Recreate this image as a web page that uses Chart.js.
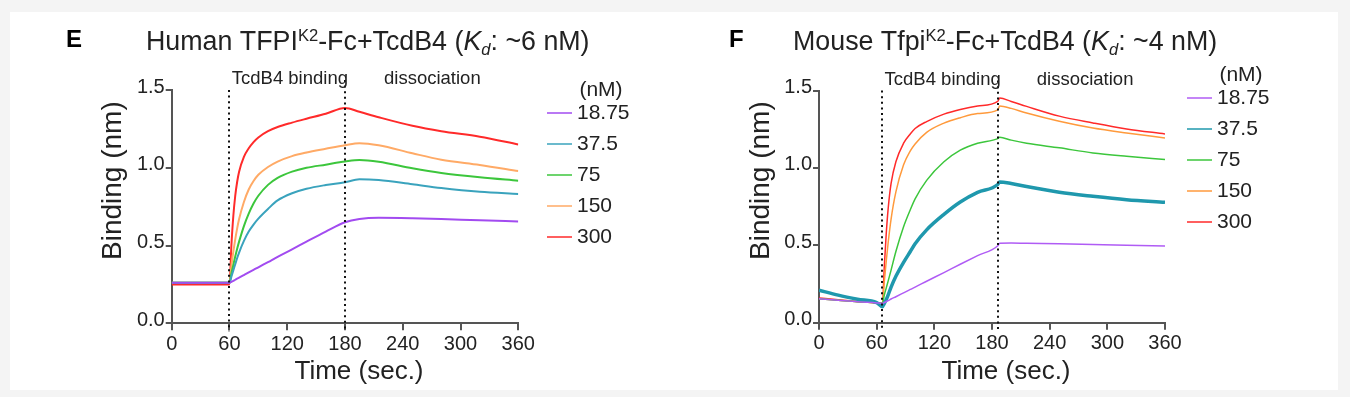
<!DOCTYPE html>
<html>
<head>
<meta charset="utf-8">
<script src="https://cdn.jsdelivr.net/npm/chart.js@4.4.1/dist/chart.umd.min.js"></script>
<style>
  html, body { margin: 0; padding: 0; background: #f4f4f4; }
  #sheet { position: absolute; left: 10px; top: 12px; width: 1328px; height: 378px; background: #fff; }
  .panel { position: absolute; top: 12px; height: 378px; }
  #panelE { left: 10px; width: 665px; }
  #panelF { left: 675px; width: 663px; }
</style>
</head>
<body>
<div id="sheet"></div>
<div class="panel" id="panelE"><canvas id="chartE" width="665" height="378"></canvas></div>
<div class="panel" id="panelF"><canvas id="chartF" width="663" height="378"></canvas></div>
<script>
// concentrations (nM) and axis ticks
var concLabels = ['18.75', '37.5', '75', '150', '300'];
var xTicks = [0, 60, 120, 180, 240, 300, 360];
var yTicks = [0, 0.5, 1.0, 1.5];

// panel E - human TFPI K2, binding (nm) vs time (sec.)
var phaseE = [60, 180];
var timeE = [0, 30, 60, 62, 64, 66, 68, 70, 75, 80, 85, 90, 100, 110, 125, 140, 160, 180, 195, 215, 250, 280, 320, 360];
var humanC1 = [0.26, 0.26, 0.26, 0.267, 0.273, 0.28, 0.287, 0.293, 0.31, 0.327, 0.343, 0.36, 0.393, 0.427, 0.475, 0.525, 0.59, 0.65, 0.671, 0.679, 0.676, 0.671, 0.662, 0.655];
var humanC2 = [0.26, 0.26, 0.26, 0.30, 0.34, 0.38, 0.42, 0.455, 0.53, 0.59, 0.635, 0.673, 0.735, 0.79, 0.836, 0.865, 0.889, 0.907, 0.926, 0.921, 0.894, 0.87, 0.846, 0.832];
var humanC3 = [0.26, 0.26, 0.26, 0.32, 0.375, 0.43, 0.48, 0.525, 0.625, 0.705, 0.77, 0.82, 0.89, 0.935, 0.975, 1.0, 1.02, 1.04, 1.05, 1.039, 0.997, 0.967, 0.939, 0.917];
var humanC4 = [0.26, 0.26, 0.26, 0.37, 0.46, 0.54, 0.61, 0.67, 0.78, 0.86, 0.915, 0.955, 1.005, 1.04, 1.075, 1.098, 1.122, 1.145, 1.158, 1.145, 1.093, 1.052, 1.018, 0.979];
var humanC5 = [0.25, 0.25, 0.25, 0.50, 0.69, 0.82, 0.91, 0.975, 1.07, 1.125, 1.165, 1.195, 1.235, 1.262, 1.29, 1.315, 1.347, 1.385, 1.36, 1.325, 1.27, 1.235, 1.20, 1.15];

// panel F - mouse Tfpi K2
var phaseF = [66, 186];
var timeF = [0, 20, 40, 60, 66, 68, 70, 72, 75, 80, 88, 95, 100, 112, 130, 147, 165, 186, 188, 200, 216, 250, 285, 320, 360];
var mouseC1 = [0.155, 0.145, 0.135, 0.128, 0.125, 0.13, 0.137, 0.143, 0.153, 0.168, 0.193, 0.215, 0.23, 0.268, 0.324, 0.378, 0.434, 0.497, 0.514, 0.515, 0.513, 0.51, 0.505, 0.50, 0.495];
var mouseC2 = [0.21, 0.178, 0.152, 0.13, 0.103, 0.125, 0.15, 0.18, 0.23, 0.30, 0.39, 0.46, 0.51, 0.60, 0.70, 0.78, 0.842, 0.893, 0.91, 0.90, 0.88, 0.843, 0.817, 0.795, 0.778];
var mouseC3 = [0.155, 0.145, 0.135, 0.128, 0.125, 0.18, 0.225, 0.27, 0.34, 0.46, 0.62, 0.73, 0.80, 0.92, 1.04, 1.115, 1.16, 1.19, 1.198, 1.18, 1.16, 1.13, 1.097, 1.075, 1.054];
var mouseC4 = [0.155, 0.145, 0.135, 0.128, 0.125, 0.27, 0.40, 0.52, 0.67, 0.845, 1.02, 1.11, 1.155, 1.23, 1.29, 1.325, 1.352, 1.376, 1.40, 1.385, 1.355, 1.302, 1.258, 1.226, 1.194];
var mouseC5 = [0.16, 0.148, 0.137, 0.128, 0.125, 0.37, 0.58, 0.74, 0.90, 1.04, 1.16, 1.22, 1.255, 1.30, 1.348, 1.378, 1.40, 1.43, 1.452, 1.43, 1.398, 1.335, 1.291, 1.252, 1.22];

// titles: [text, style]
var titleE = [['Human TFPI', ''], ['K2', 'sup'], ['-Fc+TcdB4 (', ''], ['K', 'it'], ['d', 'sub'], [': ~6 nM)', '']];
var titleF = [['Mouse Tfpi', ''], ['K2', 'sup'], ['-Fc+TcdB4 (', ''], ['K', 'it'], ['d', 'sub'], [': ~4 nM)', '']];

var FONT = '"Liberation Sans", Arial, sans-serif';
Chart.defaults.font.family = FONT;

/**
 * Draw a run of text pieces (plain, italic, superscript, subscript)
 */
function drawRichText(ctx, parts, x, y, size) {
    parts.forEach(function (p) {
        var style = p[1];
        var small = (style === 'sup' || style === 'sub');
        var s = small ? size * 0.62 : size;
        var dy = style === 'sup' ? -size * 0.33 : (style === 'sub' ? size * 0.2 : 0);
        ctx.font = ((style === 'it' || style === 'sub') ? 'italic ' : '') + s + 'px ' + FONT;
        ctx.fillText(p[0], x, y + dy);
        x += ctx.measureText(p[0]).width;
    });
}

// Everything Prism draws around the plot: markers, labels, legend, titles
var decorPlugin = {
    id: 'decor',
    afterDatasetsDraw: function (chart, args, o) {
        var ctx = chart.ctx, area = chart.chartArea;
        var xs = chart.scales.x;
        ctx.save();

        // dotted phase markers
        ctx.strokeStyle = '#111';
        ctx.lineWidth = 2;
        ctx.setLineDash([2, 3.6]);
        o.phases.forEach(function (t, i) {
            var px = Math.round(xs.getPixelForValue(t));
            ctx.beginPath();
            ctx.moveTo(px, i === 0 ? area.top : area.top - 10);
            ctx.lineTo(px, area.bottom + 8);
            ctx.stroke();
        });
        ctx.setLineDash([]);

        // phase labels
        var p2 = xs.getPixelForValue(o.phases[1]);
        ctx.fillStyle = '#222';
        ctx.textBaseline = 'middle';
        ctx.font = '18.5px ' + FONT;
        ctx.textAlign = 'right';
        ctx.fillText('TcdB4 binding', p2 + 3, area.top - 11);
        ctx.textAlign = 'left';
        ctx.fillText('dissociation', p2 + 39, area.top - 11);

        // legend
        ctx.font = '21px ' + FONT;
        ctx.textAlign = 'center';
        ctx.fillText('(nM)', o.legendX + 54, o.legendY - 23);
        ctx.textAlign = 'left';
        chart.data.datasets.forEach(function (ds, i) {
            var y = o.legendY + i * 31;
            ctx.strokeStyle = ds.borderColor;
            ctx.lineWidth = 1.5;
            ctx.beginPath();
            ctx.moveTo(o.legendX, y);
            ctx.lineTo(o.legendX + 25, y);
            ctx.stroke();
            ctx.fillText(ds.label, o.legendX + 30, y);
        });

        // axis titles
        ctx.font = '26px ' + FONT;
        ctx.textAlign = 'center';
        ctx.fillText('Time (sec.)', (area.left + area.right) / 2 + 14, area.bottom + 49);
        ctx.save();
        ctx.translate(area.left - 58, (area.top + area.bottom) / 2 - 26);
        ctx.rotate(-Math.PI / 2);
        ctx.font = '28px ' + FONT;
        ctx.fillText('Binding (nm)', 0, 0);
        ctx.restore();

        // panel letter and title
        ctx.textBaseline = 'alphabetic';
        ctx.textAlign = 'left';
        ctx.fillStyle = '#000';
        ctx.font = 'bold 24px ' + FONT;
        ctx.fillText(o.letter, o.letterX, 35);
        ctx.fillStyle = '#222';
        drawRichText(ctx, o.title, o.titleX, 38, 26.8);
        ctx.restore();
    }
};

function buildSets(time, series, colors, widths) {
    return series.map(function (vals, i) {
        return {
            label: concLabels[i],
            data: time.map(function (t, k) { return { x: t, y: vals[k] }; }),
            borderColor: colors[i],
            borderWidth: widths[i],
            pointRadius: 0,
            cubicInterpolationMode: 'monotone',
            fill: false
        };
    });
}

function makeChart(id, datasets, frame, decor) {
    var axisColor = '#555';
    return new Chart(document.getElementById(id), {
        type: 'line',
        data: { datasets: datasets },
        plugins: [decorPlugin],
        options: {
            responsive: false,
            animation: false,
            layout: { padding: { left: 0, right: frame.right, top: frame.top, bottom: 0 } },
            plugins: { legend: { display: false }, tooltip: { enabled: false }, decor: decor },
            scales: {
                x: {
                    type: 'linear', min: 0, max: 360,
                    afterBuildTicks: function (axis) { axis.ticks = xTicks.map(function (v) { return { value: v }; }); },
                    afterFit: function (s) { s.height = frame.xHeight; },
                    border: { color: axisColor, width: 2 },
                    grid: { drawOnChartArea: false, drawTicks: true, tickLength: 7, color: axisColor, lineWidth: 2 },
                    ticks: { color: '#222', font: { size: 20 }, padding: 2, maxRotation: 0 }
                },
                y: {
                    min: 0, max: 1.5,
                    afterBuildTicks: function (axis) { axis.ticks = yTicks.map(function (v) { return { value: v }; }); },
                    afterFit: function (s) { s.width = frame.yWidth; },
                    border: { color: axisColor, width: 2 },
                    grid: { drawOnChartArea: false, drawTicks: true, tickLength: 6, color: axisColor, lineWidth: 2 },
                    ticks: { color: '#222', font: { size: 20 }, padding: 1, labelOffset: -3,
                        callback: function (v) { return v.toFixed(1); } }
                }
            }
        }
    });
}

// On load
(function () {
    var humanSets = buildSets(timeE, [humanC1, humanC2, humanC3, humanC4, humanC5],
        ['#a24bf0', '#3aa3bd', '#3cc63c', '#ffaa66', '#ff2a2a'], [2, 2, 2, 2, 2]);
    var mouseSets = buildSets(timeF, [mouseC1, mouseC2, mouseC3, mouseC4, mouseC5],
        ['#b05cf5', '#1f98ad', '#3cc63c', '#ff9a3c', '#ff2a2a'], [1.5, 3.5, 1.5, 1.5, 1.5]);

    makeChart('chartE', humanSets,
        { right: 156.7, top: 78, xHeight: 66.7, yWidth: 161.7 },
        { phases: phaseE, legendX: 537, legendY: 101, letter: 'E', letterX: 56, title: titleE, titleX: 136 });
    makeChart('chartF', mouseSets,
        { right: 173, top: 78.6, xHeight: 67.3, yWidth: 144 },
        { phases: phaseF, legendX: 512, legendY: 86, letter: 'F', letterX: 54, title: titleF, titleX: 118 });
})();
</script>
</body>
</html>
